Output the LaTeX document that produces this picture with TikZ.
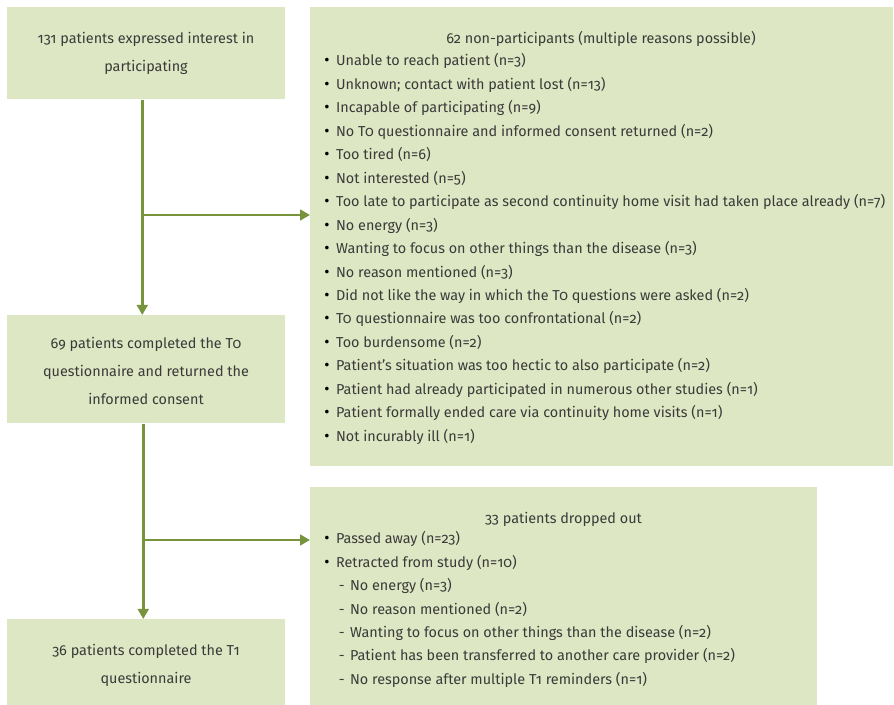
\documentclass[tikz,border=0pt]{standalone}
\usepackage{fontspec}
\setmainfont{Fira Sans}[Numbers=OldStyle]
\usetikzlibrary{arrows.meta,positioning,calc}
\definecolor{boxgreen}{HTML}{DEE7C3}
\definecolor{arrowgreen}{HTML}{77933C}
\definecolor{textgray}{HTML}{3A3A3A}
\newcommand{\bul}{{\fontsize{12}{0}\selectfont\color{black}\textbullet}\hspace{5pt}}
\newcommand{\subdash}{\hspace{11pt}-\hspace{4pt}}
\tikzset{
    box/.style={fill=boxgreen, inner sep=0pt, anchor=north west},
    flowtext/.style={font=\fontsize{10.8}{21}\selectfont, align=center, text=textgray},
    listtext/.style={font=\fontsize{10.8}{17.6}\selectfont, align=left, text=textgray, anchor=west, inner sep=0pt},
    flow/.style={-{Triangle[length=7.5pt, width=8pt]}, line width=2.2pt, arrowgreen}
}

\begin{document}
\begin{tikzpicture}[x=0.75pt, y=-0.75pt]
    \useasboundingbox (0,0) rectangle (894,705);

    % Left column
    \node[box, minimum width=278*0.75pt, minimum height=92*0.75pt] (interest) at (7,7) {};
    \node[flowtext] (interestT) at (146,53.5) {131 patients expressed interest in\\participating};

    \node[box, minimum width=278*0.75pt, minimum height=108*0.75pt] (complT0) at (7,315) {};
    \node[flowtext] (complT0T) at (146,371) {69 patients completed the T0\\questionnaire and returned the\\informed consent};

    \node[box, minimum width=278*0.75pt, minimum height=86*0.75pt] (complT1) at (7,619) {};
    \node[flowtext] (complT1T) at (146,665) {36 patients completed the T1\\questionnaire};

    % Non-participants
    \node[box, minimum width=583*0.75pt, minimum height=459*0.75pt] (nonpart) at (310,7) {};
    \node[flowtext] (nonpartT) at (601,39) {62 non-participants (multiple reasons possible)};
    \node[listtext] (nonpartL) at (324,249) {%
        \bul Unable to reach patient (n=3)\\
        \bul Unknown; contact with patient lost (n=13)\\
        \bul Incapable of participating (n=9)\\
        \bul No T0 questionnaire and informed consent returned (n=2)\\
        \bul Too tired (n=6)\\
        \bul Not interested (n=5)\\
        \bul Too late to participate as second continuity home visit had taken place already (n=7)\\
        \bul No energy (n=3)\\
        \bul Wanting to focus on other things than the disease (n=3)\\
        \bul No reason mentioned (n=3)\\
        \bul Did not like the way in which the T0 questions were asked (n=2)\\
        \bul T0 questionnaire was too confrontational (n=2)\\
        \bul Too burdensome (n=2)\\
        \bul Patient's situation was too hectic to also participate (n=2)\\
        \bul Patient had already participated in numerous other studies (n=1)\\
        \bul Patient formally ended care via continuity home visits (n=1)\\
        \bul Not incurably ill (n=1)};

    % Drop-outs
    \node[box, minimum width=507*0.75pt, minimum height=218*0.75pt] (dropout) at (310,487) {};
    \node[flowtext] (dropoutT) at (563.5,519) {33 patients dropped out};
    \node[listtext] (dropoutL) at (324,609.5) {%
        \bul Passed away (n=23)\\
        \bul Retracted from study (n=10)\\
        \subdash No energy (n=3)\\
        \subdash No reason mentioned (n=2)\\
        \subdash Wanting to focus on other things than the disease (n=2)\\
        \subdash Patient has been transferred to another care provider (n=2)\\
        \subdash No response after multiple T1 reminders (n=1)};

    % Arrows
    \coordinate (split1) at (142,215);
    \coordinate (split2) at (143,540);
    \draw[flow] ([xshift=-3pt]interest.south) -- ([xshift=-3pt]complT0.north);
    \draw[flow] (split1) -- (split1 -| nonpart.west);
    \draw[flow] ([xshift=-2.25pt]complT0.south) -- ([xshift=-2.25pt]complT1.north);
    \draw[flow] (split2) -- (split2 -| dropout.west);
\end{tikzpicture}
\end{document}
